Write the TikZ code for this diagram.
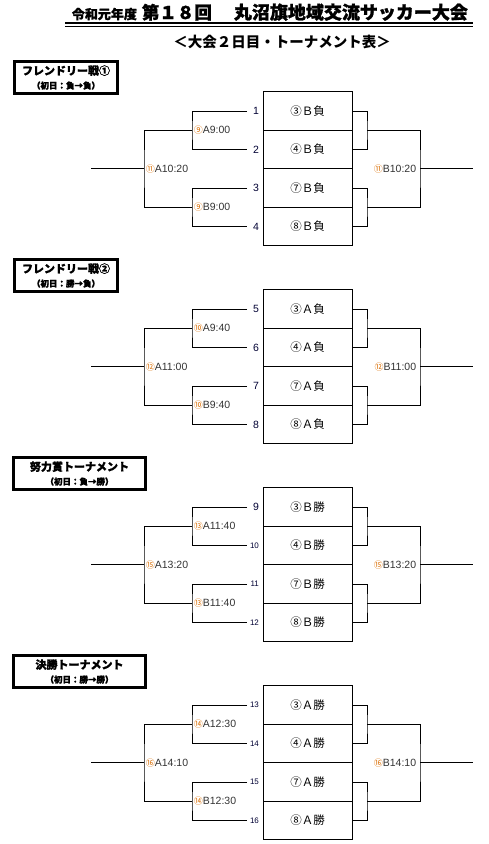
\documentclass[tikz,border=0pt]{standalone}
\usepackage{fontspec}
\setmainfont{Liberation Sans}
\newfontfamily\jpfont{Noto Sans CJK JP}
\newfontfamily\jpheavy{Noto Sans CJK JP}[BoldFeatures={FakeBold=1.2}]
\usetikzlibrary{positioning}

\newcommand{\circno}[1]{{\jpfont\fontsize{9}{10}\selectfont\color{orange!85!black}#1}}
\newcommand{\subfont}{\fontsize{8.5}{10}\selectfont}

\begin{document}
\begin{tikzpicture}[
    x=1pt, y=-1pt,
    line width=0.8pt,
    % Node styles
    headbox/.style={
        rectangle, draw=black, line width=3.2pt, fill=white,
        minimum height=32pt, inner sep=1pt,
        align=center, font=\jpheavy\bfseries\fontsize{11}{14}\selectfont
    },
    teambox/.style={
        rectangle, draw=black, line width=0.8pt,
        minimum width=89pt, minimum height=38.5pt,
        font=\jpfont\fontsize{11.5}{13}\selectfont
    },
    numlbl/.style={
        anchor=west, text width=10pt, align=right, inner sep=1.5pt,
        font=\fontsize{10.5}{12}\selectfont, text=black!80!blue
    },
    smallnum/.style={numlbl, font=\fontsize{8}{10}\selectfont},
    timelbl/.style={inner sep=1.5pt, font=\fontsize{10.5}{12}\selectfont, text=black!80},
]

% fix the page to the reference size
\useasboundingbox (0,0) rectangle (488,844);

%% ---- TITLE ----
\node[anchor=base west, inner sep=0pt, font=\jpheavy\bfseries] (title) at (71.5, 19)
    {{\fontsize{13}{14}\selectfont 令和元年度}\hspace{5pt}{\fontsize{17.5}{18}\selectfont 第１８回}\hspace{22pt}{\fontsize{18}{18}\selectfont 丸沼旗地域交流サッカー大会}};
\draw[line width=2pt] (65, 23) -- (473, 23);
\draw[line width=0.8pt] (65, 26.5) -- (473, 26.5);

\node[font=\jpfont\bfseries\fontsize{14.5}{16}\selectfont] (subtitle) at (282, 42) {＜大会２日目・トーナメント表＞};

%% ---- SECTION 1: Friendly match 1 ----
\node[headbox, minimum width=103pt] (hd1) at (66, 77.5) {フレンドリー戦①\\{\subfont （初日：負→負）}};

\node[teambox] (t1) at (307.5, 111)   {③Ｂ負};
\node[teambox] (t2) at (307.5, 149.5) {④Ｂ負};
\node[teambox] (t3) at (307.5, 188)   {⑦Ｂ負};
\node[teambox] (t4) at (307.5, 226.5) {⑧Ｂ負};

\node[numlbl] (n1) at (247, 111)   {1};
\node[numlbl] (n2) at (247, 149.5) {2};
\node[numlbl] (n3) at (247, 188)   {3};
\node[numlbl] (n4) at (247, 226.5) {4};

\coordinate (la1)  at (192, 130.25);
\coordinate (lb1)  at (192, 207.25);
\coordinate (lo1)  at (144, 168.75);
\coordinate (in1)  at (91, 168.75);
\coordinate (ra1)  at (367, 130.25);
\coordinate (rb1)  at (367, 207.25);
\coordinate (ro1)  at (420, 168.75);
\coordinate (out1) at (473, 168.75);

\node[timelbl, right=0pt of la1] (g9a)  {\circno{⑨}A9:00};
\node[timelbl, right=0pt of lb1] (g9b)  {\circno{⑨}B9:00};
\node[timelbl, right=0pt of lo1] (g11a) {\circno{⑪}A10:20};
\node[timelbl, left=2pt of ro1]  (g11b) {\circno{⑪}B10:20};

\draw (n1.west) -| (la1) |- (n2.west);
\draw (n3.west) -| (lb1) |- (n4.west);
\draw (la1) -| (lo1) |- (lb1);
\draw (in1) -- (lo1);
\draw (t1.east) -| (ra1) |- (t2.east);
\draw (t3.east) -| (rb1) |- (t4.east);
\draw (ra1) -| (ro1) |- (rb1);
\draw (ro1) -- (out1);

%% ---- SECTION 2: Friendly match 2 ----
\node[headbox, minimum width=103pt] (hd2) at (66, 275.5) {フレンドリー戦②\\{\subfont （初日：勝→負）}};

\node[teambox] (t5) at (307.5, 309)   {③Ａ負};
\node[teambox] (t6) at (307.5, 347.5) {④Ａ負};
\node[teambox] (t7) at (307.5, 386)   {⑦Ａ負};
\node[teambox] (t8) at (307.5, 424.5) {⑧Ａ負};

\node[numlbl] (n5) at (247, 309)   {5};
\node[numlbl] (n6) at (247, 347.5) {6};
\node[numlbl] (n7) at (247, 386)   {7};
\node[numlbl] (n8) at (247, 424.5) {8};

\coordinate (la2)  at (192, 328.25);
\coordinate (lb2)  at (192, 405.25);
\coordinate (lo2)  at (144, 366.75);
\coordinate (in2)  at (91, 366.75);
\coordinate (ra2)  at (367, 328.25);
\coordinate (rb2)  at (367, 405.25);
\coordinate (ro2)  at (420, 366.75);
\coordinate (out2) at (473, 366.75);

\node[timelbl, right=0pt of la2] (g10a) {\circno{⑩}A9:40};
\node[timelbl, right=0pt of lb2] (g10b) {\circno{⑩}B9:40};
\node[timelbl, right=0pt of lo2] (g12a) {\circno{⑫}A11:00};
\node[timelbl, left=2pt of ro2]  (g12b) {\circno{⑫}B11:00};

\draw (n5.west) -| (la2) |- (n6.west);
\draw (n7.west) -| (lb2) |- (n8.west);
\draw (la2) -| (lo2) |- (lb2);
\draw (in2) -- (lo2);
\draw (t5.east) -| (ra2) |- (t6.east);
\draw (t7.east) -| (rb2) |- (t8.east);
\draw (ra2) -| (ro2) |- (rb2);
\draw (ro2) -- (out2);

%% ---- SECTION 3: Effort prize ----
\node[headbox, minimum width=132pt] (hd3) at (79.5, 473.5) {努力賞トーナメント\\{\subfont （初日：負→勝）}};

\node[teambox] (t9)  at (307.5, 507)   {③Ｂ勝};
\node[teambox] (t10) at (307.5, 545.5) {④Ｂ勝};
\node[teambox] (t11) at (307.5, 584)   {⑦Ｂ勝};
\node[teambox] (t12) at (307.5, 622.5) {⑧Ｂ勝};

\node[numlbl]   (n9)  at (247, 507)   {9};
\node[smallnum] (n10) at (247, 545.5) {10};
\node[smallnum] (n11) at (247, 584)   {11};
\node[smallnum] (n12) at (247, 622.5) {12};

\coordinate (la3)  at (192, 526.25);
\coordinate (lb3)  at (192, 603.25);
\coordinate (lo3)  at (144, 564.75);
\coordinate (in3)  at (91, 564.75);
\coordinate (ra3)  at (367, 526.25);
\coordinate (rb3)  at (367, 603.25);
\coordinate (ro3)  at (420, 564.75);
\coordinate (out3) at (473, 564.75);

\node[timelbl, right=0pt of la3] (g13a) {\circno{⑬}A11:40};
\node[timelbl, right=0pt of lb3] (g13b) {\circno{⑬}B11:40};
\node[timelbl, right=0pt of lo3] (g15a) {\circno{⑮}A13:20};
\node[timelbl, left=2pt of ro3]  (g15b) {\circno{⑮}B13:20};

\draw (n9.west) -| (la3) |- (n10.west);
\draw (n11.west) -| (lb3) |- (n12.west);
\draw (la3) -| (lo3) |- (lb3);
\draw (in3) -- (lo3);
\draw (t9.east) -| (ra3) |- (t10.east);
\draw (t11.east) -| (rb3) |- (t12.east);
\draw (ra3) -| (ro3) |- (rb3);
\draw (ro3) -- (out3);

%% ---- SECTION 4: Final tournament ----
\node[headbox, minimum width=132pt] (hd4) at (79.5, 671.5) {決勝トーナメント\\{\subfont （初日：勝→勝）}};

\node[teambox] (t13) at (307.5, 705)   {③Ａ勝};
\node[teambox] (t14) at (307.5, 743.5) {④Ａ勝};
\node[teambox] (t15) at (307.5, 782)   {⑦Ａ勝};
\node[teambox] (t16) at (307.5, 820.5) {⑧Ａ勝};

\node[smallnum] (n13) at (247, 705)   {13};
\node[smallnum] (n14) at (247, 743.5) {14};
\node[smallnum] (n15) at (247, 782)   {15};
\node[smallnum] (n16) at (247, 820.5) {16};

\coordinate (la4)  at (192, 724.25);
\coordinate (lb4)  at (192, 801.25);
\coordinate (lo4)  at (144, 762.75);
\coordinate (in4)  at (91, 762.75);
\coordinate (ra4)  at (367, 724.25);
\coordinate (rb4)  at (367, 801.25);
\coordinate (ro4)  at (420, 762.75);
\coordinate (out4) at (473, 762.75);

\node[timelbl, right=0pt of la4] (g14a) {\circno{⑭}A12:30};
\node[timelbl, right=0pt of lb4] (g14b) {\circno{⑭}B12:30};
\node[timelbl, right=0pt of lo4] (g16a) {\circno{⑯}A14:10};
\node[timelbl, left=2pt of ro4]  (g16b) {\circno{⑯}B14:10};

\draw (n13.west) -| (la4) |- (n14.west);
\draw (n15.west) -| (lb4) |- (n16.west);
\draw (la4) -| (lo4) |- (lb4);
\draw (in4) -- (lo4);
\draw (t13.east) -| (ra4) |- (t14.east);
\draw (t15.east) -| (rb4) |- (t16.east);
\draw (ra4) -| (ro4) |- (rb4);
\draw (ro4) -- (out4);

\end{tikzpicture}
\end{document}
